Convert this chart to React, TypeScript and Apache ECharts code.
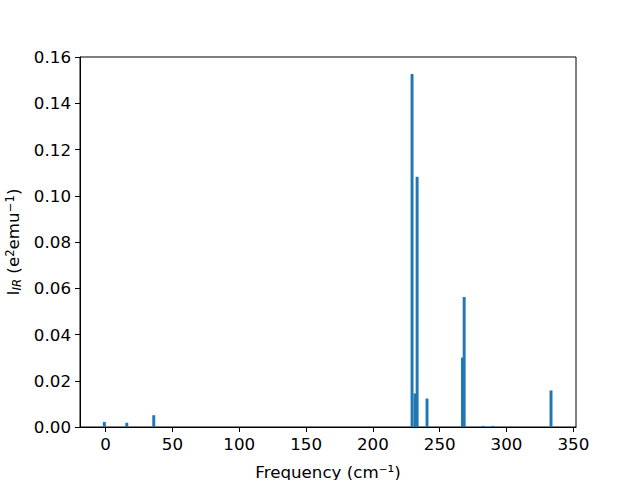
import React, { useEffect, useRef } from "react";
import * as echarts from "echarts";

const frequencies = [-1, 15.8, 36, 229.3, 231.5, 233.1, 240.5, 267, 268.3, 282.5, 289.8, 333.3];
const intensities = [0.0022, 0.0018, 0.0051, 0.1527, 0.0145, 0.1082, 0.0123, 0.03, 0.0562, 0.0005, 0.0005, 0.0158];
const xTicks = [0, 50, 100, 150, 200, 250, 300, 350];
const barWidthUnits = 2.2;

export default function App() {
  const ref = useRef<HTMLDivElement>(null);
  useEffect(() => {
    if (!ref.current) return;
    const chart = echarts.init(ref.current, null, { renderer: "svg" });
    const font = "DejaVu Sans";
    const fs = 16.7;
    const data = frequencies.map((f, i) => [f, intensities[i]]);
    chart.setOption({
      animation: false,
      backgroundColor: "#ffffff",
      textStyle: { fontFamily: font },
      grid: {
        left: 80,
        right: 64,
        top: 57,
        bottom: 53,
        outerBoundsMode: "none",
        containLabel: false,
        show: true,
        borderColor: "#000",
        borderWidth: 1,
        backgroundColor: "transparent",
      },
      xAxis: {
        type: "value",
        min: -19.2,
        max: 352,
        name: "Frequency (cm⁻¹)",
        nameLocation: "middle",
        nameGap: 36,
        nameTextStyle: { fontFamily: font, fontSize: fs, color: "#000" },
        axisLine: { show: true, onZero: false, lineStyle: { color: "#000", width: 1 } },
        axisTick: { show: true, length: 5, lineStyle: { color: "#000" }, customValues: xTicks },
        axisLabel: {
          color: "#000",
          fontFamily: font,
          fontSize: fs,
          margin: 8,
          customValues: xTicks,
          formatter: (v: number) => String(Math.round(v)),
        },
        splitLine: { show: false },
      },
      yAxis: {
        type: "value",
        min: 0,
        max: 0.16,
        interval: 0.02,
        name: "{n|I}{sub|IR}{n| (e}{sup|2}{n|emu}{sup|−1}{n|)}",
        nameLocation: "middle",
        nameGap: 54,
        nameTextStyle: {
          fontFamily: font,
          fontSize: fs,
          color: "#000",
          rich: {
            n: { fontFamily: font, fontSize: fs, color: "#000" },
            sub: { fontFamily: font, fontSize: 11.7, fontStyle: "italic", color: "#000", verticalAlign: "bottom", padding: [7, 0, 0, 0] },
            sup: { fontFamily: font, fontSize: 11.7, color: "#000", verticalAlign: "top", padding: [0, 0, 7, 0] },
          },
        },
        axisLine: { show: true, onZero: false, lineStyle: { color: "#000", width: 1 } },
        axisTick: { show: true, length: 5, lineStyle: { color: "#000" } },
        axisLabel: {
          color: "#000",
          fontFamily: font,
          fontSize: fs,
          margin: 9,
          formatter: (v: number) => v.toFixed(2),
        },
        splitLine: { show: false },
      },
      series: [
        {
          type: "custom",
          data,
          clip: true,
          renderItem: (params: any, api: any) => {
            const x = api.value(0);
            const y = api.value(1);
            const p0 = api.coord([x - barWidthUnits / 2, 0]);
            const p1 = api.coord([x + barWidthUnits / 2, y]);
            return {
              type: "rect",
              shape: { x: p0[0], y: p1[1], width: p1[0] - p0[0], height: p0[1] - p1[1] },
              style: { fill: "#1f77b4" },
            };
          },
        },
      ],
    });
    return () => chart.dispose();
  }, []);
  return (
    <div
      ref={ref}
      style={{ position: "fixed", left: 0, top: 0, width: 640, height: 480, background: "#fff" }}
    />
  );
}
